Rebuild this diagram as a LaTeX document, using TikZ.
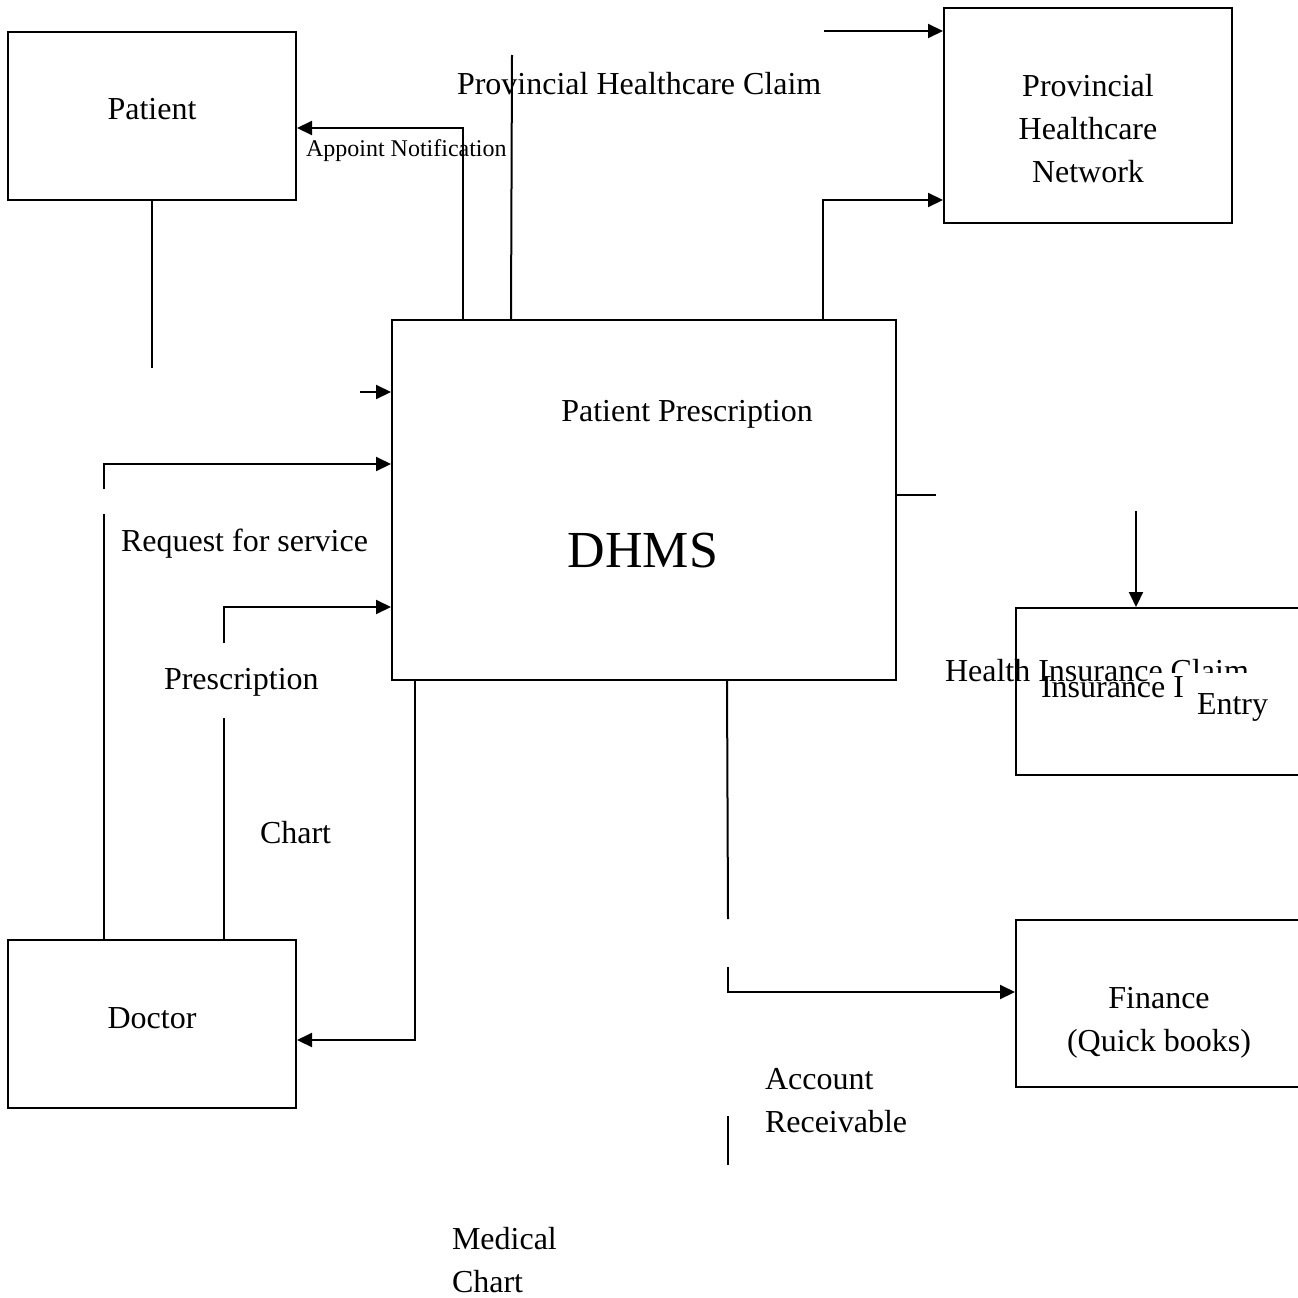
\documentclass[tikz,border=0pt]{standalone}
\usepackage{fontspec}
\setmainfont{Liberation Serif}
\usetikzlibrary{arrows.meta}
\begin{document}
\begin{tikzpicture}[x=1pt,y=-1pt,
  line width=2pt,
  box/.style={draw,rectangle,inner sep=0pt,minimum width=#1},
  arr/.style={-{Triangle[length=15pt,width=14pt]}},
  lbl/.style={inner sep=0pt,font=\fontsize{32}{43}\selectfont},
  small/.style={inner sep=0pt,font=\fontsize{24}{30}\selectfont},
  big/.style={inner sep=0pt,font=\fontsize{52}{60}\selectfont}]
\useasboundingbox (0,0) rectangle (1298,1298);
\clip (0,0) rectangle (1298,1298);

% entity boxes
\node[box=288pt,minimum height=168pt] (patient) at (152,116) {};
\node[box=288pt,minimum height=215pt] (phn) at (1088,115.5) {};
\node[box=504pt,minimum height=360pt] (dhms) at (644,500) {};
\node[box=304pt,minimum height=167pt] (ins) at (1168,691.5) {};
\node[box=304pt,minimum height=167pt] (fin) at (1168,1003.5) {};
\node[box=288pt,minimum height=168pt] (doctor) at (152,1024) {};

% box captions
\node[lbl,anchor=base] (tpatient) at (152,119) {Patient};
\node[lbl,anchor=base] (tphn1) at (1088,96) {Provincial};
\node[lbl,anchor=base] (tphn2) at (1088,139) {Healthcare};
\node[lbl,anchor=base] (tphn3) at (1088,182) {Network};
\node[lbl,anchor=base] (tpp) at (687,421) {Patient Prescription};
\node[big,anchor=base] (tdhms) at (643,567) {DHMS};
\node[lbl,anchor=base] (tfin1) at (1159,1008) {Finance};
\node[lbl,anchor=base] (tfin2) at (1159,1051) {(Quick books)};
\node[lbl,anchor=base] (tdoc) at (152,1028) {Doctor};

% overlapping captions at the insurance box
\node[lbl,anchor=base west] (thic) at (944,681) {Health Insurance Claim};
\fill[white] (1150,673) rectangle (1290,730);
\node[lbl,anchor=base west] (tins) at (1040,697) {Insurance I};
\node[lbl,anchor=base west] (tentry) at (1196,714) {Entry};

% flow labels
\node[lbl,anchor=base west] (tphc) at (456,95) {Provincial Healthcare Claim};
\node[small,anchor=base west] (tappt) at (305,156) {Appoint Notification};
\node[lbl,anchor=base west] (treq) at (120,551) {Request for service};
\node[lbl,anchor=base west] (tpres) at (163,689) {Prescription};
\node[lbl,anchor=base west] (tchart) at (259,843) {Chart};
\node[lbl,anchor=base west] (tacc1) at (764,1089) {Account};
\node[lbl,anchor=base west] (tacc2) at (764,1132) {Receivable};
\node[lbl,anchor=base west] (tmed1) at (451,1249) {Medical};
\node[lbl,anchor=base west] (tmed2) at (451,1292) {Chart};

% free line ends
\coordinate (c1) at (512,55);
\coordinate (c2) at (824,31);
\coordinate (c3) at (152,368);
\coordinate (c4) at (360,392);
\coordinate (c5) at (104,489);
\coordinate (c6) at (104,514);
\coordinate (c7) at (224,643);
\coordinate (c8) at (224,718);
\coordinate (c9) at (936,495);
\coordinate (c10) at (1136,511);
\coordinate (c11) at (728,919);
\coordinate (c12) at (728,967);
\coordinate (c13) at (728,1116);
\coordinate (c14) at (728,1165);

% connectors
\draw[arr] ([xshift=72pt]dhms.north west) |- ([yshift=-12pt]patient.east);
\draw ([xshift=120pt]dhms.north west) -- (c1);
\draw[arr] (c2) -- (c2 -| phn.west);
\draw[arr] ([xshift=432pt]dhms.north west) |- ([yshift=-84.5pt]phn.west);
\draw (patient.south) -- (c3);
\draw[arr] (c4) -- (c4 -| dhms.west);
\draw[arr] (c5) |- ([yshift=36pt]dhms.west);
\draw (c6) -- (c6 |- doctor.north);
\draw[arr] (c7) |- ([yshift=-107pt]dhms.west);
\draw (c8) -- (c8 |- doctor.north);
\draw[arr] ([xshift=24pt]dhms.south west) |- ([yshift=-16pt]doctor.east);
\draw ([yshift=5pt]dhms.east) -- (c9);
\draw[arr] (c10) -- (c10 |- ins.north);
\draw ([xshift=336pt]dhms.south west) -- (c11);
\draw[arr] (c12) |- ([yshift=11.5pt]fin.west);
\draw (c13) -- (c14);
\end{tikzpicture}
\end{document}
